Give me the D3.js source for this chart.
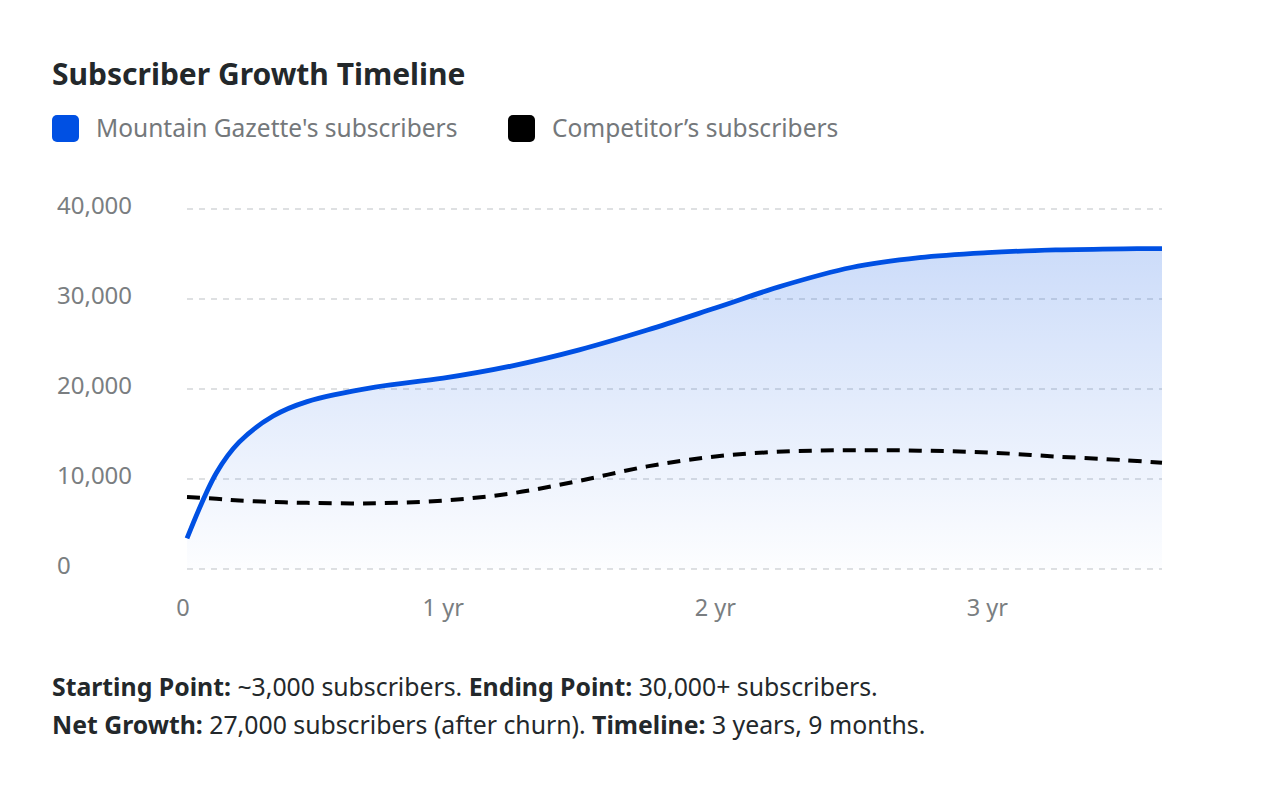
<!DOCTYPE html>
<html>
<head>
<meta charset="utf-8">
<script src="https://cdn.jsdelivr.net/npm/d3@7"></script>
<style>
  body { margin: 0; background: #fff; }
  text { font-family: "Noto Sans", sans-serif; }
</style>
</head>
<body>
<div id="chart"></div>
<script>
// Width and height of the SVG
const width = 1264;
const height = 808;

// Data (months since launch, subscribers)
const months = [0.7, 2, 3, 4.5, 6, 9, 12, 15, 18, 21, 24, 27, 30, 33, 36, 39, 42, 43.7];
const gazette = [3400, 10700, 14100, 17000, 18600, 20200, 21200, 22550, 24350, 26550, 29000, 31500, 33500, 34600, 35150, 35450, 35580, 35600];
const competitor = [8000, 7800, 7600, 7450, 7350, 7300, 7600, 8400, 9800, 11400, 12500, 13050, 13200, 13150, 12950, 12500, 12100, 11800];

const yTicks = [0, 10000, 20000, 30000, 40000];
const xTicks = [0, 12, 24, 36];
const xTickLabels = ["0", "1 yr", "2 yr", "3 yr"];

const seriesNames = ["Mountain Gazette's subscribers", "Competitor\u2019s subscribers"];
const seriesColors = ["#0050e3", "#000000"];

const blue = "#0050e3";
const plot = { left: 187, right: 1162, top: 209, bottom: 569 };

const svg = d3.select("#chart")
    .append("svg")
    .attr("width", width)
    .attr("height", height);

svg.append("rect").attr("width", width).attr("height", height).attr("fill", "#fff");

// scales: one year is 272px, the first point sits a bit right of zero
const x = d3.scaleLinear()
    .domain([months[0], months[months.length - 1]])
    .range([plot.left, plot.right]);
const y = d3.scaleLinear()
    .domain([0, 40000])
    .range([plot.bottom, plot.top]);

// Title
svg.append("text")
    .attr("x", 52)
    .attr("y", 85)
    .attr("font-size", 30)
    .attr("font-weight", 700)
    .attr("fill", "#23282b")
    .text("Subscriber Growth Timeline");

// Legend
const legendX = [52, 508];
seriesNames.forEach((name, i) => {
    const g = svg.append("g").attr("transform", `translate(${legendX[i]},115)`);
    g.append("rect")
        .attr("width", 27)
        .attr("height", 27)
        .attr("rx", 5)
        .attr("fill", seriesColors[i]);
    g.append("text")
        .attr("x", 44)
        .attr("y", 22)
        .attr("font-size", 24.5)
        .attr("fill", "#74787b")
        .text(name);
});

// Gradient for the area
const defs = svg.append("defs");
const grad = defs.append("linearGradient")
    .attr("id", "areaFill")
    .attr("gradientUnits", "userSpaceOnUse")
    .attr("x1", 0).attr("x2", 0)
    .attr("y1", y(35600)).attr("y2", plot.bottom);
grad.append("stop").attr("offset", "0%").attr("stop-color", blue).attr("stop-opacity", 0.2);
grad.append("stop").attr("offset", "100%").attr("stop-color", blue).attr("stop-opacity", 0.01);

// Grid lines
svg.append("g")
    .selectAll("line")
    .data(yTicks)
    .enter()
    .append("line")
    .attr("x1", plot.left)
    .attr("x2", plot.right)
    .attr("y1", d => y(d))
    .attr("y2", d => y(d))
    .attr("stroke", "#d3d6d9")
    .attr("stroke-width", 1.3)
    .attr("stroke-dasharray", "6 6");

// Y labels (left aligned)
svg.append("g")
    .selectAll("text")
    .data(yTicks)
    .enter()
    .append("text")
    .attr("x", 57)
    .attr("y", d => y(d) + 5)
    .attr("font-size", 24)
    .attr("fill", "#7a7e81")
    .text(d => d3.format(",")(d));

// X labels; the "0" label is kept inside the plot edge
svg.append("g")
    .selectAll("text")
    .data(xTicks)
    .enter()
    .append("text")
    .attr("x", d => Math.max(x(d), plot.left - 4))
    .attr("y", 616)
    .attr("text-anchor", "middle")
    .attr("font-size", 23.5)
    .attr("fill", "#7a7e81")
    .text((d, i) => xTickLabels[i]);

const gazetteData = months.map((m, i) => ({ m: m, v: gazette[i] }));
const competitorData = months.map((m, i) => ({ m: m, v: competitor[i] }));

const smooth = d3.curveCatmullRom.alpha(0.5);

const area = d3.area()
    .x(d => x(d.m))
    .y0(plot.bottom)
    .y1(d => y(d.v))
    .curve(smooth);

const line = d3.line()
    .x(d => x(d.m))
    .y(d => y(d.v))
    .curve(smooth);

svg.append("path")
    .datum(gazetteData)
    .attr("d", area)
    .attr("fill", "url(#areaFill)");

svg.append("path")
    .datum(competitorData)
    .attr("d", line)
    .attr("fill", "none")
    .attr("stroke", "#000")
    .attr("stroke-width", 4)
    .attr("stroke-dasharray", "13 9");

svg.append("path")
    .datum(gazetteData)
    .attr("d", line)
    .attr("fill", "none")
    .attr("stroke", blue)
    .attr("stroke-width", 4.8);

// Footer notes
const notes = [
    [["Starting Point:", true], [" ~3,000 subscribers. ", false], ["Ending Point:", true], [" 30,000+ subscribers.", false]],
    [["Net Growth:", true], [" 27,000 subscribers (after churn). ", false], ["Timeline:", true], [" 3 years, 9 months.", false]]
];
notes.forEach((parts, i) => {
    const t = svg.append("text")
        .attr("x", 52)
        .attr("y", 696 + i * 38)
        .attr("font-size", 24.8)
        .attr("fill", "#23282b")
        .attr("xml:space", "preserve");
    parts.forEach(p => {
        t.append("tspan")
            .attr("font-weight", p[1] ? 700 : 400)
            .text(p[0]);
    });
});
</script>
</body>
</html>
